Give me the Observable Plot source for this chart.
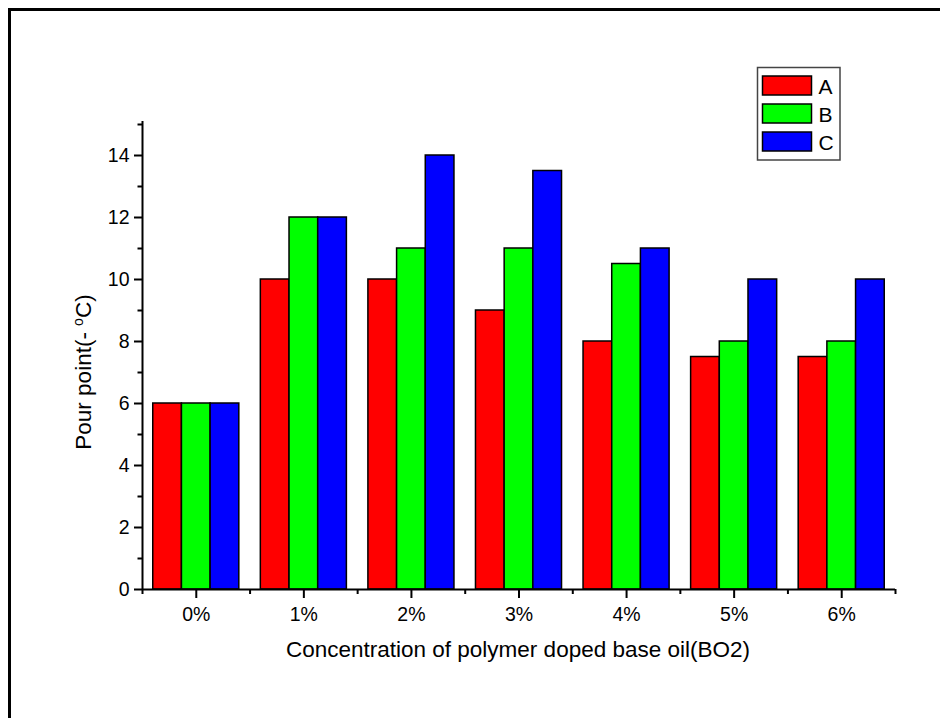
<!DOCTYPE html>
<html>
<head>
<meta charset="utf-8">
<script src="https://cdn.jsdelivr.net/npm/d3@7"></script>
<script src="https://cdn.jsdelivr.net/npm/@observablehq/plot@0.6"></script>
<style>
  html, body { margin: 0; padding: 0; background: #fff; overflow: hidden; }
  #chart svg { display: block; }
  #chart svg g[aria-label$="tick label"],
  #chart svg g[aria-label$="tick label"] text {
    font-size: 19.5px !important;
    font-family: 'Liberation Sans', Arial, Helvetica, sans-serif !important;
  }
</style>
</head>
<body>
<div id="chart"></div>
<script>
const categories = ["0%", "1%", "2%", "3%", "4%", "5%", "6%"];
const seriesNames = ["A", "B", "C"];
const seriesA = [6, 10, 10, 9, 8, 7.5, 7.5];
const seriesB = [6, 12, 11, 11, 10.5, 8, 8];
const seriesC = [6, 12, 14, 13.5, 11, 10, 10];
const seriesColors = ["#ff0000", "#00ff00", "#0000ff"];
const yMajorTicks = [0, 2, 4, 6, 8, 10, 12, 14];
const yMinorTicks = [1, 3, 5, 7, 9, 11, 13, 15];
const xTitle = "Concentration of polymer doped base oil(BO2)";

const seriesValues = [seriesA, seriesB, seriesC];
const groupWidth = 0.8;
const barW = groupWidth / seriesNames.length;
const data = [];
categories.forEach((c, i) => {
  seriesNames.forEach((s, k) => {
    data.push({cat: c, idx: i, series: s, k, value: seriesValues[k][i]});
  });
});
const boundaries = d3.range(-0.5, categories.length, 1);

const font = "'Liberation Sans', Arial, Helvetica, sans-serif";

const plot = Plot.plot({
  width: 940,
  height: 718,
  marginLeft: 142,
  marginRight: 45,
  marginTop: 120.9,
  marginBottom: 129,
  style: {fontFamily: font, fontSize: "20px", color: "#000", background: "#fff", overflow: "hidden"},
  x: {type: "linear", domain: [-0.5, categories.length - 0.5]},
  y: {domain: [0, 15.1]},
  color: {domain: seriesNames, range: seriesColors},
  marks: [
    Plot.rectY(data, {
      x1: d => d.idx - groupWidth / 2 + d.k * barW,
      x2: d => d.idx - groupWidth / 2 + (d.k + 1) * barW,
      y: "value",
      fill: "series",
      stroke: "#000",
      strokeWidth: 1.5
    }),
    Plot.axisX({ticks: d3.range(categories.length), tickFormat: i => categories[i], tickSize: 9, tickPadding: 9, strokeWidth: 2, fontSize: 20, label: null}),
    Plot.axisX({ticks: boundaries, tickSize: 5, tickFormat: () => "", strokeWidth: 2, label: null}),
    Plot.axisY({ticks: yMajorTicks, tickSize: 8, tickPadding: 5, strokeWidth: 2, fontSize: 20, label: null}),
    Plot.axisY({ticks: yMinorTicks, tickSize: 4.5, tickFormat: () => "", strokeWidth: 2, label: null}),
    Plot.ruleY([0], {strokeWidth: 2}),
    Plot.ruleX([-0.5], {y1: 0, y2: 15.1, strokeWidth: 2})
  ]
});

document.getElementById("chart").appendChild(plot);
const svg = d3.select(plot);

// outer border: left and top edges only
svg.append("line")
  .attr("x1", 9.5).attr("y1", 8).attr("x2", 9.5).attr("y2", 718)
  .attr("stroke", "#000").attr("stroke-width", 3);
svg.append("line")
  .attr("x1", 8).attr("y1", 9.5).attr("x2", 940).attr("y2", 9.5)
  .attr("stroke", "#000").attr("stroke-width", 3);

// x title
svg.append("text")
  .attr("x", 518).attr("y", 656.5)
  .attr("text-anchor", "middle")
  .style("font-family", font).style("font-size", "22.5px")
  .text(xTitle);

// y title
const yt = svg.append("text")
  .attr("transform", "translate(91,372) rotate(-90)")
  .attr("text-anchor", "middle")
  .style("font-family", font).style("font-size", "22.5px");
yt.append("tspan").text("Pour point(- ");
yt.append("tspan").attr("baseline-shift", "super").style("font-size", "14px").text("o");
yt.append("tspan").text("C)");

// legend
const lg = svg.append("g");
lg.append("rect")
  .attr("x", 757.5).attr("y", 67.5).attr("width", 82.5).attr("height", 92.5)
  .attr("fill", "#fff").attr("stroke", "#444").attr("stroke-width", 1.5);
seriesNames.forEach((s, k) => {
  const y0 = 76 + k * 28;
  lg.append("rect")
    .attr("x", 762.5).attr("y", y0).attr("width", 49).attr("height", 19)
    .attr("fill", seriesColors[k]).attr("stroke", "#000").attr("stroke-width", 1.5);
  lg.append("text")
    .attr("x", 818.5).attr("y", y0 + 17.5)
    .attr("text-anchor", "start")
    .style("font-family", font).style("font-size", "21px")
    .text(s);
});
</script>
</body>
</html>
